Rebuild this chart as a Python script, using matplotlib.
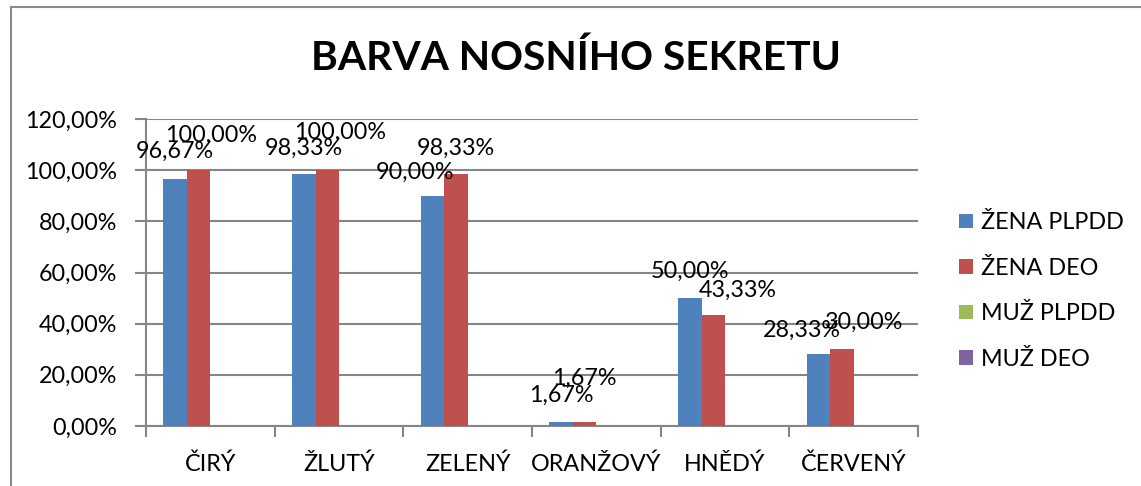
import matplotlib
matplotlib.use("Agg")
import matplotlib.pyplot as plt
from matplotlib.lines import Line2D
from matplotlib.ticker import FuncFormatter
import numpy as np

# ---- data ----
categories = ["ČIRÝ", "ŽLUTÝ", "ZELENÝ", "ORANŽOVÝ", "HNĚDÝ", "ČERVENÝ"]
series_names = ["ŽENA PLPDD", "ŽENA DEO", "MUŽ PLPDD", "MUŽ DEO"]
zena_plpdd = [96.67, 98.33, 90.00, 1.67, 50.00, 28.33]
zena_deo = [100.00, 100.00, 98.33, 1.67, 43.33, 30.00]
muz_plpdd = [0, 0, 0, 0, 0, 0]
muz_deo = [0, 0, 0, 0, 0, 0]
y_ticks = [0, 20, 40, 60, 80, 100, 120]
title = "BARVA NOSNÍHO SEKRETU"

# ---- style ----
colors = ["#4F81BD", "#C0504D", "#9BBB59", "#8064A2"]
grid_c = "#868686"
FONT = ["Lato", "DejaVu Sans"]
plt.rcParams["font.family"] = FONT
FS = 16.8

# label offsets (pixels) for the two labelled series, mimicking the original placement
blue_off = [(0, 27), (0, 26), (-18, 23), (0, 26), (0, 27), (-17, 23.5)]
red_off = [(13, 35), (13, 38), (0, 26), (0, 43), (24, 25), (22, 27)]

W, H = 1141, 486
fig = plt.figure(figsize=(W / 100, H / 100), dpi=100)
ax = fig.add_axes([146 / W, 1 - 426 / H, (918 - 146) / W, (426 - 119) / H])

x = np.arange(len(categories))
bw = 0.182
all_series = [zena_plpdd, zena_deo, muz_plpdd, muz_deo]
handles = []
for i, (vals, c, name) in enumerate(zip(all_series, colors, series_names)):
    b = ax.bar(x + (i - 1.5) * bw, vals, width=bw, color=c, linewidth=0, label=name, zorder=3)
    handles.append(b)

def fmt(v):
    return f"{v:.2f}".replace(".", ",") + "%"

for vals, offs, k in [(zena_plpdd, blue_off, 0), (zena_deo, red_off, 1)]:
    for xi, v, (dx, dy) in zip(x, vals, offs):
        ax.annotate(fmt(v), xy=(xi + (k - 1.5) * bw, v), xytext=(dx, dy),
                    textcoords="offset pixels", ha="center", va="center",
                    fontsize=FS, color="black", zorder=5)

ax.set_xlim(-0.5, len(categories) - 0.5)
ax.set_ylim(0, 120)
ax.set_yticks(y_ticks)
ax.yaxis.set_major_formatter(FuncFormatter(lambda v, p: fmt(v)))
ax.set_xticks(np.arange(len(categories) + 1) - 0.5, minor=False)
ax.set_xticklabels([])
ax.set_xticks(x, minor=True)
ax.set_xticklabels(categories, minor=True)
ax.tick_params(axis="x", which="minor", length=0, pad=20, labelsize=FS)
ax.tick_params(axis="x", which="major", length=8, width=1.5, color=grid_c)
ax.tick_params(axis="y", length=8, width=1.5, color=grid_c, labelsize=FS, pad=13)

ax.grid(axis="y", color=grid_c, linewidth=1.5, zorder=0)
for s in ["top", "right"]:
    ax.spines[s].set_visible(False)
for s in ["left", "bottom"]:
    ax.spines[s].set_color(grid_c)
    ax.spines[s].set_linewidth(1.5)

fig.text(576 / W, 1 - 58 / H, title, ha="center", va="center",
         fontsize=29.3, fontweight="bold")

fig.legend(handles=handles, loc="center left", bbox_to_anchor=(959 / W, 1 - 291 / H),
           frameon=False, fontsize=FS, handlelength=0.6, handleheight=0.6,
           handletextpad=0.35, labelspacing=1.05, borderpad=0, borderaxespad=0)

# outer chart border (left and top visible)
fig.add_artist(Line2D([11 / W, 11 / W], [0, 1 - 7 / H], transform=fig.transFigure,
                      color="#8a8a8a", linewidth=1.5))
fig.add_artist(Line2D([11 / W, 1], [1 - 7 / H, 1 - 7 / H], transform=fig.transFigure,
                      color="#8a8a8a", linewidth=1.5))

fig.savefig("out.png", dpi=100)
